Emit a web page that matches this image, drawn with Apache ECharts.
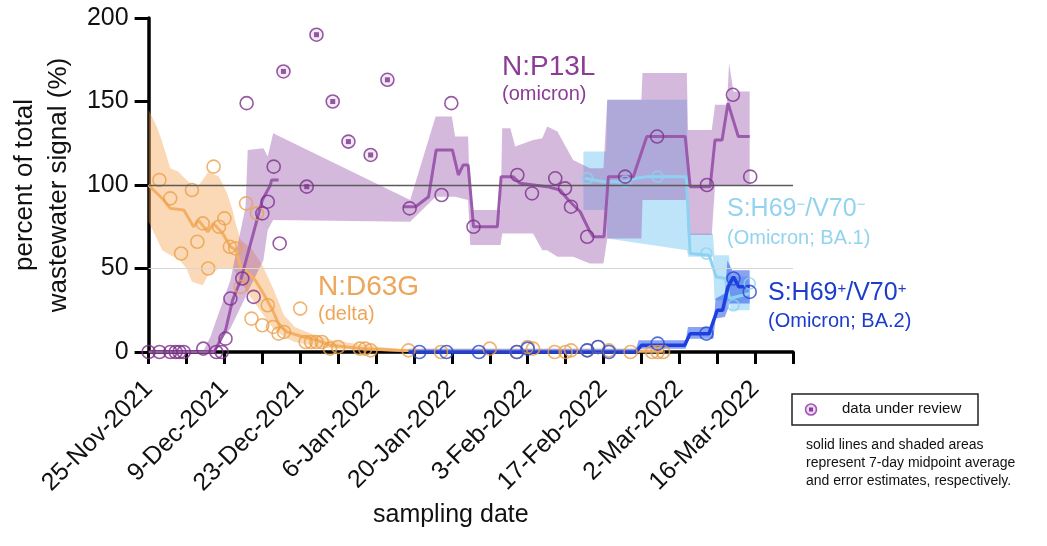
<!DOCTYPE html>
<html>
<head>
<meta charset="utf-8">
<script src="https://cdn.jsdelivr.net/npm/echarts@6/dist/echarts.min.js"></script>
<style>
  html, body { margin: 0; padding: 0; background: #fff; }
  #chart { width: 1047px; height: 546px; }
</style>
</head>
<body>
<div id="chart"></div>
<script>
// x is "days since 25-Nov-2021", ticks every 7 days, labels every 14
const tickLabels = ['25-Nov-2021', '9-Dec-2021', '23-Dec-2021', '6-Jan-2022', '20-Jan-2022',
  '3-Feb-2022', '17-Feb-2022', '2-Mar-2022', '16-Mar-2022'];
const yTicks = [0, 50, 100, 150, 200];

// N:P13L (omicron) - purple
const p13Days = [0, 2, 4, 5, 5.7, 6.5, 10.1, 12.5, 13.5, 14.2, 15.1, 17.3, 18.1, 19.4, 21, 22, 23.1, 24.2,
  48.2, 54.1, 55.9, 60, 68.1, 70.8, 75.1, 76.9, 78, 81, 88, 93.9, 103.1, 107.9, 111.1];
const p13Vals = [0, 0, 0, 0, 0, 0, 2, 0, 0, 8, 32, 44, 149, 33, 83, 90, 111, 65,
  86, 94, 149, 75, 106, 95, 104, 98, 87, 69, 105, 129, 100, 154, 105];
const p13ReviewDays = [24.9, 29.2, 31, 34, 36.9, 41, 44.1];
const p13ReviewVals = [168, 99, 190, 150, 126, 118, 163];
const p13AvgDays = [0, 12, 12.9, 14.2, 15.5, 17, 18.5, 20, 21, 22.5, 22.7, 24, 24.1, 47, 49.3, 51.7, 53.1, 56.1, 57.2, 58.1,
  59, 60, 64.4, 65.1, 67.3, 68.6, 73.6, 76, 77.5, 79.7, 81.5, 82.1, 84.1, 84.9, 89.5, 92, 99.1, 100, 103.7, 104.6,
  105.9, 107, 108.9, 111];
const p13AvgVals = [0, 0, 5, 13, 31, 43, 61, 79, 91, 100, 103, 103, null, 87, 87, 93, 121, 121, 106, 112,
  112, 75, 75, 105, 105, 101, 99, 97, 91, 84, 72, 69, 69, 105, 105, 129, 129, 99, 99, 127,
  127, 149, 129, 129];
const p13BandDays = [10, 11.4, 15.1, 17.9, 18.3, 21.2, 22, 23, 48.3, 53, 56, 56.6, 59, 59.4, 65, 65.3, 66.8, 67.7, 71, 72.7,
  73.6, 75.5, 78.4, 81.5, 84, 84.7, 91, 91.2, 99.4, 99.6, 104, 104.6, 106.8, 107.2, 108, 111];
const p13BandHigh = [0, 9, 43, 87, 121, 122, 117, 131, 91, 141, 141, 129, 129, 85, 85, 134, 134, 123, 127, 128,
  135, 132, 115, 110, 110, 151, 151, 167, 167, 133, 133, 148, 148, 173, 156, 156];
const p13BandLow = [0, 0, 14, 33, 36, 55, 73, 79, 78, 93, 93, 93, 91, 64, 64, 71, 71, 71, 71, 61,
  61, 57, 57, 53, 53, 68, 68, 91, 91, 70, 70, 100, 100, 100, 100, 100];

// N:D63G (delta) - orange
const d63Days = [2, 4, 6, 8, 9, 10, 11, 12, 13, 14, 15, 16, 17, 18, 19, 20, 21, 22, 23, 24,
  25, 28, 29, 30, 31, 32, 33.5, 35, 39, 40, 41, 48, 54, 63, 68, 70, 71, 75, 77, 78,
  81, 83, 85, 89, 93, 94, 95];
const d63Vals = [103, 92, 59, 97, 66, 77, 50, 111, 75, 80, 63, 62, 39, 89, 20, 83, 16, 28, 15, 11,
  12, 26, 6, 6, 6, 6, 2, 3, 2, 2, 1, 1, 0, 2, 0, 3, 2, 0, 0, 1,
  1, 3, 1, 0, 0, 0, 0];
const d63AvgDays = [0, 0.9, 2.8, 4, 6.5, 8.3, 9.2, 10.9, 12, 13.7, 15.1, 16.2, 17, 18.5, 19.7, 21.2, 22.9, 24, 25.6, 28.6,
  31.2, 33.6, 39.7, 45.9, 52, 95];
const d63AvgVals = [100, 97, 91, 86, 85, 75, 79, 72, 77, 71, 63, 61, 51, 47, 43, 35, 25, 17, 12, 9,
  7, 4, 2, 1, 0.5, 0.5];
const d63BandDays = [0, 1.5, 2.5, 4, 5.5, 7, 8, 9, 10, 11, 13, 14.5, 15.5, 16, 17, 19, 21, 23, 25, 27, 30, 34, 40, 46, 52, 95];
const d63BandHigh = [145, 135, 126, 110, 108, 103, 100, 99, 103, 108, 105, 95, 85, 78, 67, 62, 52, 38, 22, 15, 11, 7, 4, 2, 1.5, 1.5];
const d63BandLow = [78, 68, 61, 58, 56, 50, 42, 41, 40, 46, 50, 50, 50, 48, 42, 32, 23, 14, 9, 6, 4, 2, 1, 0, 0, 0];

// S:H69-/V70- (Omicron BA.1) - light blue
const ba1Days = [81, 88, 94, 103, 108, 111];
const ba1Vals = [104, 102, 105, 59, 28, 41];
const ba1AvgDays = [80.5, 84, 88, 90, 92, 99.3, 100, 103.5, 104.8, 106.5, 107.3, 111];
const ba1AvgVals = [104, 102, 102, 104, 105, 105, 59, 58, 45, 44, 32, 35];
const ba1BandDays = [80.3, 84.5, 84.7, 99.4, 99.7, 104.2, 104.5, 107.2, 107.5, 111];
const ba1BandHigh = [120, 120, 151, 151, 71, 71, 58, 58, 45, 45];
const ba1BandLow = [85, 85, 68, 61, 57, 57, 31, 31, 25, 25];

// S:H69+/V70+ (Omicron BA.2) - dark blue
const ba2Days = [50, 55, 61, 68, 70, 81, 83, 85, 94, 103, 108, 111];
const ba2Vals = [0, 0, 0, 0, 2, 1, 3, 0, 5, 11, 44, 36];
const ba2AvgDays = [48, 90, 91, 99, 100, 103.5, 105, 106, 107, 108, 109, 111];
const ba2AvgVals = [0, 0, 4, 4, 11, 11, 25, 25, 39, 45, 39, 39];
const ba2BandDays = [48, 90, 90.5, 99.2, 99.6, 104.3, 104.7, 106.4, 106.9, 107.3, 107.8, 111];
const ba2BandHigh = [2, 2, 7, 7, 15, 15, 32, 35, 55, 52, 49, 49];
const ba2BandLow = [0, 0, 2, 2, 8, 8, 20, 21, 25, 29, 29, 29];

const FONT = '"Liberation Sans", Arial, Helvetica, sans-serif';
const PURPLE = '#9b5aab', PURPLE_DOT = '#7d2f8c';
const ORANGE = '#f3b064', ORANGE_DOT = '#eba04c';
const LBLUE = '#8dd2f1';
const DBLUE = '#1d3fe0';

function pairs(days, vals) {
  return days.map((d, i) => [d, vals[i] == null ? '-' : vals[i]]);
}

function band(days, lo, hi, fill, z) {
  return {
    type: 'custom', silent: true, z: z, clip: true,
    data: days.map((d, i) => [d, lo[i], hi[i]]),
    encode: {x: 0, y: [1, 2]},
    renderItem: function (params, api) {
      if (params.dataIndex !== 0) return;
      const top = days.map((d, i) => api.coord([d, hi[i]]));
      const bot = days.map((d, i) => api.coord([d, lo[i]])).reverse();
      return {type: 'polygon', shape: {points: top.concat(bot)}, style: {fill: fill}};
    }
  };
}

function avgLine(days, vals, color, width, z) {
  return {
    type: 'line', data: pairs(days, vals), symbol: 'none', silent: true, z: z,
    lineStyle: {color: color, width: width}, connectNulls: false
  };
}

function dots(days, vals, color, size, z) {
  return {
    type: 'scatter', data: pairs(days, vals), symbol: 'circle', symbolSize: size, silent: true, z: z,
    itemStyle: {color: 'rgba(0,0,0,0)', borderColor: color, borderWidth: 1.6}
  };
}

const chart = echarts.init(document.getElementById('chart'));

const option = {
  animation: false,
  backgroundColor: '#fff',
  textStyle: {fontFamily: FONT},
  grid: {left: 148, right: 254, top: 18, bottom: 194},
  xAxis: {
    type: 'value', min: 0, max: 119, interval: 7,
    name: 'sampling date', nameLocation: 'middle', nameGap: 150,
    nameTextStyle: {fontSize: 25, color: '#111', fontFamily: FONT, padding: [0, 40, 0, 0]},
    axisLine: {onZero: false, lineStyle: {color: '#000', width: 3.5}},
    axisTick: {length: 12, lineStyle: {color: '#000', width: 3}},
    axisLabel: {
      rotate: 45, fontSize: 25, color: '#111', margin: 33, fontFamily: FONT,
      formatter: function (v) { return v % 14 === 0 ? tickLabels[v / 14] : ''; }
    },
    splitLine: {show: false}
  },
  yAxis: {
    type: 'value', min: yTicks[0], max: yTicks[yTicks.length - 1], interval: 50,
    name: 'percent of total\nwastewater signal (%)', nameLocation: 'middle', nameGap: 69,
    nameTextStyle: {fontSize: 26, lineHeight: 34, color: '#111', fontFamily: FONT},
    axisLine: {lineStyle: {color: '#000', width: 3.5}},
    axisTick: {length: 14, lineStyle: {color: '#000', width: 3}},
    axisLabel: {fontSize: 25, color: '#111', margin: 20, fontFamily: FONT},
    splitLine: {show: false}
  },
  series: [
    band(d63BandDays, d63BandLow, d63BandHigh, 'rgba(245,165,80,0.42)', 1),
    band(ba1BandDays, ba1BandLow, ba1BandHigh, 'rgba(110,195,242,0.45)', 1),
    band(p13BandDays, p13BandLow, p13BandHigh, 'rgba(150,80,170,0.4)', 1),
    band(ba2BandDays, ba2BandLow, ba2BandHigh, 'rgba(40,85,232,0.55)', 1),
    {
      type: 'line', data: [], silent: true, z: 2,
      markLine: {
        symbol: 'none', silent: true, label: {show: false},
        data: [
          {yAxis: 50, lineStyle: {color: '#d6d6d6', width: 1, type: 'solid'}},
          {yAxis: 100, lineStyle: {color: '#5a5a5a', width: 1.4, type: 'solid'}}
        ]
      }
    },
    avgLine(d63AvgDays, d63AvgVals, ORANGE, 3, 3),
    avgLine(ba1AvgDays, ba1AvgVals, LBLUE, 3, 3),
    avgLine(p13AvgDays, p13AvgVals, PURPLE, 3, 3),
    avgLine(ba2AvgDays, ba2AvgVals, DBLUE, 3.5, 3),
    dots(d63Days, d63Vals, ORANGE_DOT, 13, 4),
    dots(ba1Days, ba1Vals, LBLUE, 11, 4),
    dots(ba2Days, ba2Vals, '#2448d6', 13, 4),
    dots(p13Days, p13Vals, PURPLE_DOT, 13, 5),
    {
      type: 'scatter', data: pairs(p13ReviewDays, p13ReviewVals), symbol: 'circle', symbolSize: 13, z: 5, silent: true,
      itemStyle: {color: 'rgba(190,150,205,0.25)', borderColor: PURPLE_DOT, borderWidth: 1.6}
    },
    {
      type: 'scatter', data: pairs(p13ReviewDays, p13ReviewVals), symbol: 'rect', symbolSize: 5, z: 6, silent: true,
      itemStyle: {color: PURPLE_DOT}
    }
  ],
  graphic: [
    {type: 'text', x: 502, y: 53, z: 10, style: {text: 'N:P13L', fontSize: 28, fontFamily: FONT, fill: '#8c3c96'}},
    {type: 'text', x: 502, y: 84, z: 10, style: {text: '(omicron)', fontSize: 20, fontFamily: FONT, fill: '#8c3c96'}},
    {type: 'text', x: 318, y: 273, z: 10, style: {text: 'N:D63G', fontSize: 28, fontFamily: FONT, fill: '#eda65a'}},
    {type: 'text', x: 318, y: 304, z: 10, style: {text: '(delta)', fontSize: 20, fontFamily: FONT, fill: '#eda65a'}},
    {
      type: 'text', x: 727, y: 197, z: 10,
      style: {
        text: '{a|S:H69}{s|−}{a|/V70}{s|−}', fontFamily: FONT,
        rich: {a: {fontSize: 25, fill: '#93d3f0', fontFamily: FONT}, s: {fontSize: 15, fill: '#93d3f0', verticalAlign: 'top', fontFamily: FONT}}
      }
    },
    {type: 'text', x: 727, y: 228, z: 10, style: {text: '(Omicron; BA.1)', fontSize: 20, fontFamily: FONT, fill: '#93d3f0'}},
    {
      type: 'text', x: 768, y: 281, z: 10,
      style: {
        text: '{a|S:H69}{s|+}{a|/V70}{s|+}', fontFamily: FONT,
        rich: {a: {fontSize: 25, fill: '#1b3ccc', fontFamily: FONT}, s: {fontSize: 15, fill: '#1b3ccc', verticalAlign: 'top', fontFamily: FONT}}
      }
    },
    {type: 'text', x: 768, y: 311, z: 10, style: {text: '(Omicron; BA.2)', fontSize: 20, fontFamily: FONT, fill: '#1b3ccc'}},
    // legend box
    {type: 'rect', z: 10, shape: {x: 792, y: 394, width: 186, height: 31}, style: {fill: '#fff', stroke: '#222', lineWidth: 1.5}},
    {type: 'circle', z: 11, shape: {cx: 811, cy: 409.5, r: 5.5}, style: {fill: 'rgba(190,150,205,0.35)', stroke: '#a455b3', lineWidth: 1.6}},
    {type: 'rect', z: 12, shape: {x: 809, y: 407.5, width: 4, height: 4}, style: {fill: '#8d3a9c'}},
    {type: 'text', x: 842, y: 401, z: 11, style: {text: 'data under review', fontSize: 15, fontFamily: FONT, fill: '#111'}},
    {
      type: 'text', x: 806, y: 436, z: 10,
      style: {
        text: 'solid lines and shaded areas\nrepresent 7-day midpoint average\nand error estimates, respectively.',
        fontSize: 14, lineHeight: 18, fontFamily: FONT, fill: '#111'
      }
    }
  ]
};

chart.setOption(option);
</script>
</body>
</html>
